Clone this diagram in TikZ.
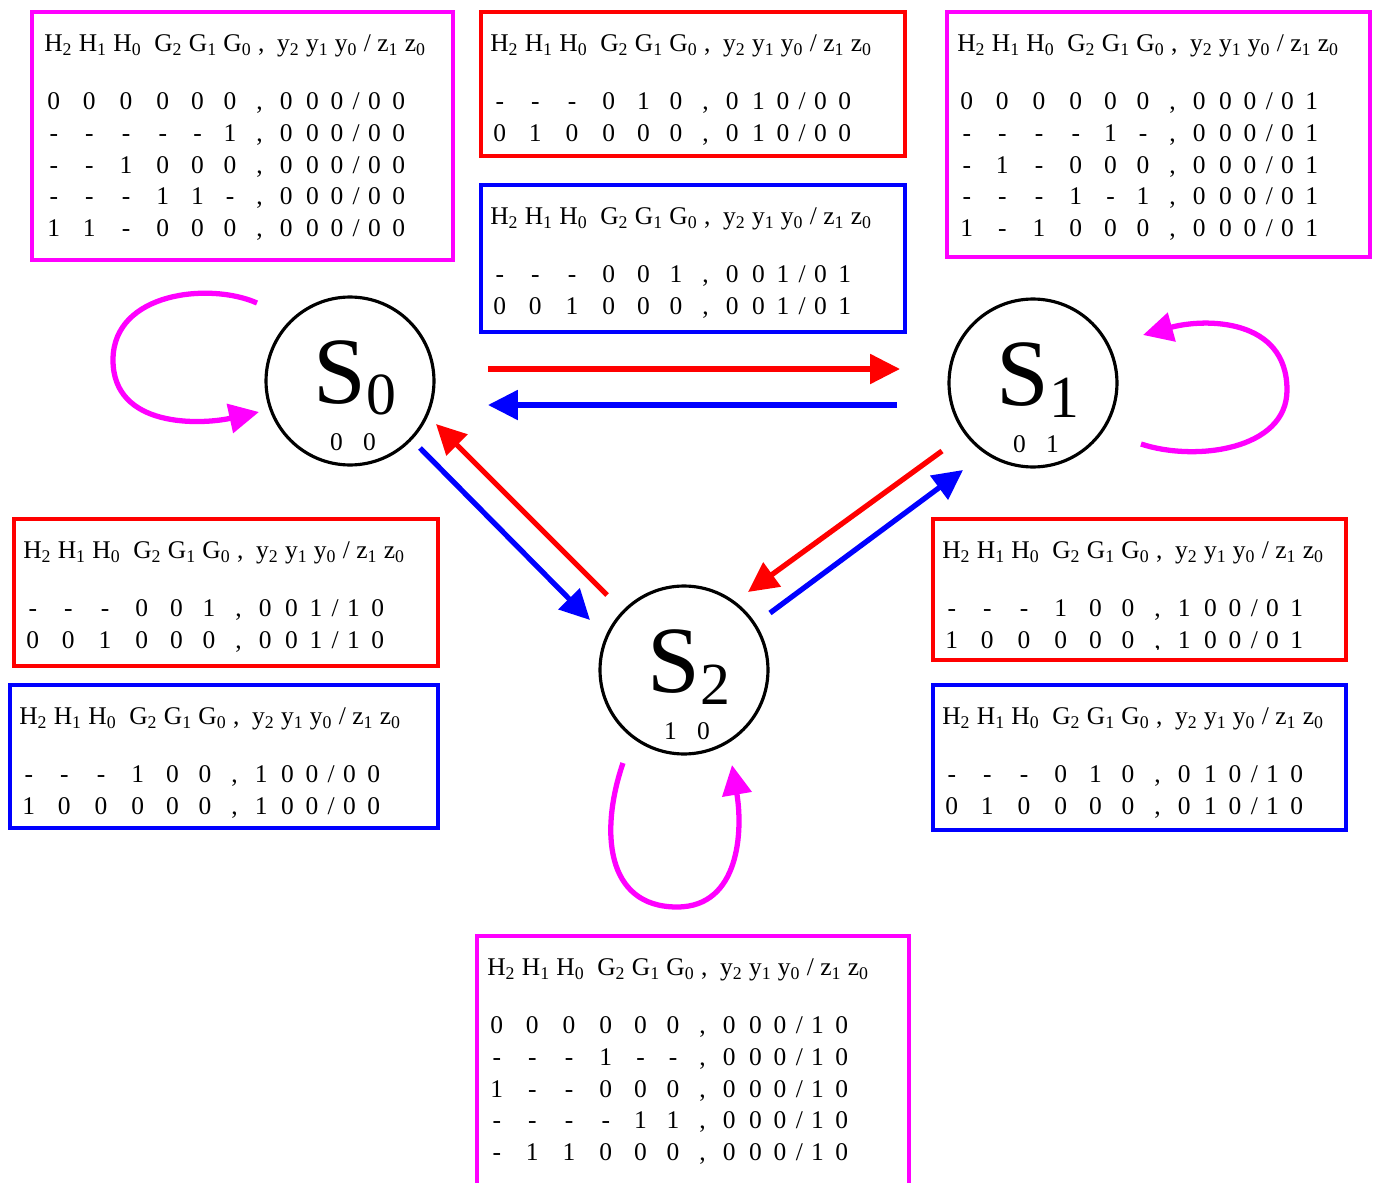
\documentclass[tikz,border=0pt]{standalone}
\usepackage{fontspec}
\setmainfont{Liberation Serif}
\usepackage{array}
\usepackage{tikz}
\usetikzlibrary{arrows.meta, positioning}
\usepackage{xcolor}
\definecolor{LoopMag}{HTML}{FF00FF}
\definecolor{EdgeRed}{HTML}{FF0000}
\definecolor{EdgeBlue}{HTML}{0000FF}

\newlength{\pxu}\setlength{\pxu}{0.02cm}
\newcolumntype{C}[1]{w{c}{#1\pxu}}
\newenvironment{ttab}{\setlength{\tabcolsep}{0pt}%
  \begin{tabular}{@{}C{35}C{36}C{37.5}C{36}C{33.5}C{31.5}C{27.5}C{26}C{26.5}C{22.5}C{16}C{20.5}C{28}@{}}}%
  {\end{tabular}}
\newcommand{\tblfont}{\fontsize{14.5}{18}\selectfont}
\newcommand{\thead}{\multicolumn{13}{@{\hspace{8\pxu}}l@{}}{\rlap{H\textsubscript{2} H\textsubscript{1} H\textsubscript{0}\ \ G\textsubscript{2} G\textsubscript{1} G\textsubscript{0} ,\ \ y\textsubscript{2} y\textsubscript{1} y\textsubscript{0} / z\textsubscript{1} z\textsubscript{0}}}\\[15.3pt]}
\newcommand{\stname}[1]{\fontsize{54}{54}\selectfont S\raisebox{-6.5pt}{\fontsize{34}{34}\selectfont #1}}

\begin{document}
\begin{tikzpicture}[x=0.02cm, y=-0.02cm,
  stnode/.style={circle, draw, line width=1.8pt, minimum size=3.36cm, inner sep=0pt},
  stlabel/.style={inner sep=0pt},
  bits/.style={font=\tblfont, inner sep=0pt},
  tblbox/.style={draw=#1, line width=2.4pt, fill=white, inner sep=0pt},
  tbl/.style={anchor=north west, inner sep=0pt, font=\tblfont},
  trans/.style={line width=3pt, -{Triangle[length=17pt, width=16.5pt]}},
  selfloop/.style={trans, LoopMag}]
  \fill[white] (0,0) rectangle (1377,1183);
  \useasboundingbox (0,0) rectangle (1377,1183);

  % states with their codes
  \foreach \n/\x/\y/\bv in {0/350/381/{0\hspace{11.5pt}0}, 1/1033/383/{0\hspace{11.5pt}1}, 2/684/670/{1\hspace{11.5pt}0}} {
    \node[stnode] (S\n) at (\x,\y) {};
    \node[stlabel] (l\n) at ([shift={(5,-3)}]S\n.center) {\stname{\n}};
    \node[bits] (c\n) at ([shift={(3,61)}]S\n.center) {\bv};
  }

  % frames of the transition tables
  \foreach \f/\x/\y/\w/\h/\col in {00/242.5/136/8.42/4.96/LoopMag, 01/693/84/8.48/2.88/EdgeRed,
      10/693/258.5/8.48/2.94/EdgeBlue, 11/1158.5/134.5/8.46/4.90/LoopMag,
      20/226/592.5/8.48/2.94/EdgeRed, 02/224/756.5/8.56/2.86/EdgeBlue,
      12/1139.5/589.5/8.26/2.82/EdgeRed, 21/1139.5/757.5/8.26/2.90/EdgeBlue,
      22/693/1062/8.64/5.04/LoopMag} {
    \node[tblbox=\col, minimum width=\w cm, minimum height=\h cm] (f\f) at (\x,\y) {};
  }

  \node[tbl] (t00) at ([shift={(6,19)}]f00.north west) {\begin{ttab}\thead
    0&0&0&0&0&0&,&0&0&0&/&0&0\\
    -&-&-&-&-&1&,&0&0&0&/&0&0\\
    -&-&1&0&0&0&,&0&0&0&/&0&0\\
    -&-&-&1&1&-&,&0&0&0&/&0&0\\
    1&1&-&0&0&0&,&0&0&0&/&0&0\end{ttab}};
  \node[tbl] (t01) at ([shift={(3,19)}]f01.north west) {\begin{ttab}\thead
    -&-&-&0&1&0&,&0&1&0&/&0&0\\
    0&1&0&0&0&0&,&0&1&0&/&0&0\end{ttab}};
  \node[tbl] (t10) at ([shift={(3,19)}]f10.north west) {\begin{ttab}\thead
    -&-&-&0&0&1&,&0&0&1&/&0&1\\
    0&0&1&0&0&0&,&0&0&1&/&0&1\end{ttab}};
  \node[tbl] (t11) at ([shift={(4,19)}]f11.north west) {\begin{ttab}\thead
    0&0&0&0&0&0&,&0&0&0&/&0&1\\
    -&-&-&-&1&-&,&0&0&0&/&0&1\\
    -&1&-&0&0&0&,&0&0&0&/&0&1\\
    -&-&-&1&-&1&,&0&0&0&/&0&1\\
    1&-&1&0&0&0&,&0&0&0&/&0&1\end{ttab}};
  \node[tbl] (t20) at ([shift={(3,19)}]f20.north west) {\begin{ttab}\thead
    -&-&-&0&0&1&,&0&0&1&/&1&0\\
    0&0&1&0&0&0&,&0&0&1&/&1&0\end{ttab}};
  \node[tbl] (t02) at ([shift={(3,19)}]f02.north west) {\begin{ttab}\thead
    -&-&-&1&0&0&,&1&0&0&/&0&0\\
    1&0&0&0&0&0&,&1&0&0&/&0&0\end{ttab}};
  \begin{scope}
    \clip ([shift={(0,2)}]f12.north west) rectangle ([shift={(0,-13)}]f12.south east);
    \node[tbl] (t12) at ([shift={(3,19)}]f12.north west) {\begin{ttab}\thead
      -&-&-&1&0&0&,&1&0&0&/&0&1\\
      1&0&0&0&0&0&,&1&0&0&/&0&1\end{ttab}};
  \end{scope}
  \node[tbl] (t21) at ([shift={(3,19)}]f21.north west) {\begin{ttab}\thead
    -&-&-&0&1&0&,&0&1&0&/&1&0\\
    0&1&0&0&0&0&,&0&1&0&/&1&0\end{ttab}};
  \node[tbl] (t22) at ([shift={(4,19)}]f22.north west) {\begin{ttab}\thead
    0&0&0&0&0&0&,&0&0&0&/&1&0\\
    -&-&-&1&-&-&,&0&0&0&/&1&0\\
    1&-&-&0&0&0&,&0&0&0&/&1&0\\
    -&-&-&-&1&1&,&0&0&0&/&1&0\\
    -&1&1&0&0&0&,&0&0&0&/&1&0\end{ttab}};

  % transitions between states
  \foreach \a/\sa/\b/\sb/\col in {S0/{138,-12}/S1/{-133,-14}/EdgeRed,
      S1/{-136,22}/S0/{138,24}/EdgeBlue, S0/{70,67}/S2/{-94,-50}/EdgeBlue,
      S2/{-77,-75}/S0/{86,43}/EdgeRed, S1/{-91,68}/S2/{64,-78}/EdgeRed,
      S2/{86,-57}/S1/{-70,87}/EdgeBlue}
    \draw[trans, \col] ([shift={(\sa)}]\a.center) -- ([shift={(\sb)}]\b.center);

  % self loops
  \draw[selfloop] (257,303) .. controls (210,282) and (113,292) .. (113,360)
    .. controls (113,428) and (200,425) .. (259,412);
  \draw[selfloop] (1141,444) .. controls (1195,462) and (1287,450) .. (1287,390)
    .. controls (1287,318) and (1205,318) .. (1143,335);
  \draw[selfloop] (623,763) .. controls (600,830) and (605,907) .. (677,907)
    .. controls (740,907) and (743,830) .. (732,765);
\end{tikzpicture}
\end{document}
